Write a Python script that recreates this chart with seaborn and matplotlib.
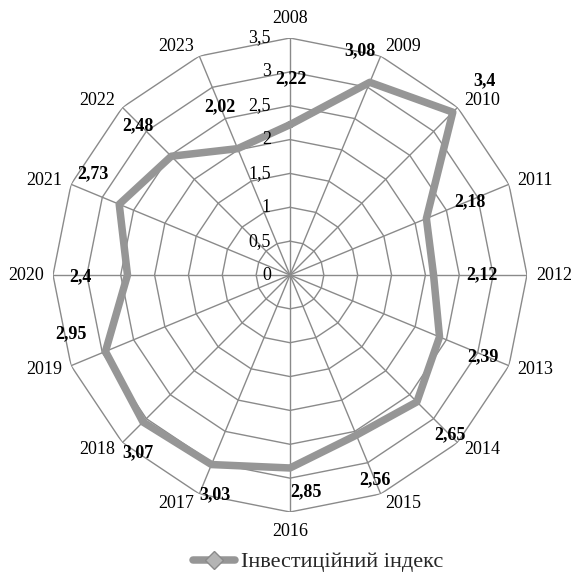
import numpy as np
import pandas as pd
import matplotlib
matplotlib.use("Agg")
import matplotlib.pyplot as plt
from matplotlib.lines import Line2D
import seaborn as sns

# ---- data ----
years = ["2008", "2009", "2010", "2011", "2012", "2013", "2014", "2015",
         "2016", "2017", "2018", "2019", "2020", "2021", "2022", "2023"]
index_values = [2.22, 3.08, 3.4, 2.18, 2.12, 2.39, 2.65, 2.56,
                2.85, 3.03, 3.07, 2.95, 2.4, 2.73, 2.48, 2.02]
value_labels = ["2,22", "3,08", "3,4", "2,18", "2,12", "2,39", "2,65", "2,56",
                "2,85", "3,03", "3,07", "2,95", "2,4", "2,73", "2,48", "2,02"]
r_ticks = [0, 0.5, 1, 1.5, 2, 2.5, 3, 3.5]
r_tick_labels = ["0", "0,5", "1", "1,5", "2", "2,5", "3", "3,5"]
series_name = "Інвестиційний індекс"

# label offsets (pixels, x right / y up) for the value labels
label_dx = [1, -10, 32, 44, 48, 43, 33, 19, 16, 3, -5, -35, -47, -26, -33, -18]
label_dy = [46, 32, 31, 17, 0, -20, -33, -45, -24, -30, -31, 18, -2, 31, 31, 42]

sns.set_theme(style="white")
plt.rcParams["font.family"] = ["Liberation Serif", "DejaVu Serif"]

W, H = 574, 577
fig = plt.figure(figsize=(W / 100, H / 100), dpi=100)
cx, cy, R = 290, 275, 237
ax = fig.add_axes([(cx - R) / W, (H - cy - R) / H, 2 * R / W, 2 * R / H],
                  projection="polar")
ax.set_theta_zero_location("N")
ax.set_theta_direction(-1)
ax.set_ylim(0, r_ticks[-1])
ax.grid(False)
ax.spines["polar"].set_visible(False)
ax.set_xticks([])
ax.set_yticks([])
ax.set_facecolor("white")

n = len(years)
theta = np.linspace(0, 2 * np.pi, n, endpoint=False)
theta_closed = np.append(theta, 2 * np.pi)

grid_col = "#8a8a8a"
# polygon rings
for rv in r_ticks[1:]:
    ax.plot(theta_closed, [rv] * (n + 1), color=grid_col, lw=1.0, zorder=1)
# spokes
for t in theta:
    ax.plot([t, t], [0, r_ticks[-1]], color=grid_col, lw=1.0, zorder=1)

# data line via seaborn
df = pd.DataFrame({"theta": theta_closed,
                   "value": index_values + [index_values[0]]})
sns.lineplot(data=df, x="theta", y="value", ax=ax, color="#969696",
             lw=5.4, sort=False, zorder=3, legend=False)
ax.set_xlabel("")
ax.set_ylabel("")

# radial tick labels
for rv, lab in zip(r_ticks, r_tick_labels):
    ax.annotate(lab, xy=(0, rv), xytext=(-19, 0), textcoords="offset pixels",
                ha="right", va="center", fontsize=13, color="#000000",
                zorder=4)

# category labels
for t, yr in zip(theta, years):
    s, c = np.sin(t), np.cos(t)
    if abs(s) < 0.01:
        dx, dy = 0, 20 * np.sign(c)
    else:
        dx = np.sign(s) * (20 + 7 * abs(s))
        dy = 10 * c
    ax.annotate(yr, xy=(t, r_ticks[-1]), xytext=(dx, dy),
                textcoords="offset pixels", ha="center", va="center",
                fontsize=13, color="#000000", annotation_clip=False)

# value labels
for t, v, lab, dx, dy in zip(theta, index_values, value_labels,
                             label_dx, label_dy):
    ax.annotate(lab, xy=(t, v), xytext=(dx, dy), textcoords="offset pixels",
                ha="center", va="center", fontsize=13, fontweight="bold",
                color="#000000", zorder=5, annotation_clip=False)

# legend
handle = Line2D([], [], color="#969696", lw=5.4, marker="D", markersize=9,
                markerfacecolor="#b4b4b4", markeredgecolor="#8a8a8a")
fig.legend([handle], [series_name], loc="center",
           bbox_to_anchor=(318 / W, 1 - 562 / H), frameon=False,
           prop={"family": "Liberation Serif", "size": 16},
           handlelength=1.9, handletextpad=0.23)

fig.savefig("out.png", dpi=100, facecolor="white")
